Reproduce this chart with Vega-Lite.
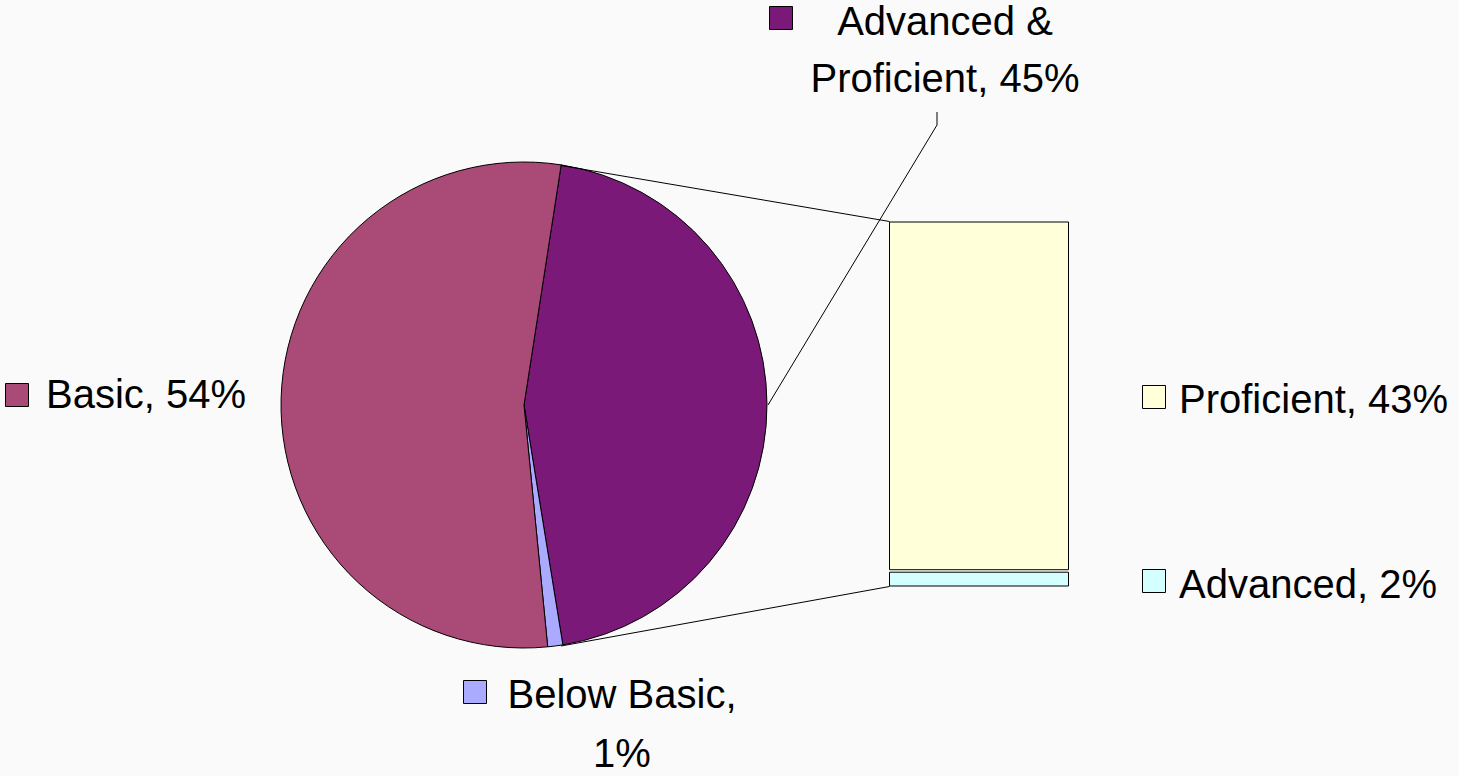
{
  "$schema": "https://vega.github.io/schema/vega-lite/v6.json",
  "width": 1459,
  "height": 776,
  "autosize": {"type": "fit", "contains": "padding"},
  "padding": 0,
  "background": "#fafafa",
  "config": {
    "view": {"stroke": null},
    "text": {"font": "Liberation Sans", "fontSize": 40, "fill": "#000000"}
  },
  "datasets": {
    "pie": [
      {"level": "Advanced & Proficient", "pct": 45, "rank": 1, "label": "Advanced &\nProficient, 45%"},
      {"level": "Below Basic", "pct": 1, "rank": 2, "label": "Below Basic,\n1%"},
      {"level": "Basic", "pct": 54, "rank": 3, "label": "Basic, 54%"}
    ],
    "bar": [
      {"level": "Advanced", "pct": 2, "rank": 1, "label": "Advanced, 2%"},
      {"level": "Proficient", "pct": 43, "rank": 2, "label": "Proficient, 43%"}
    ]
  },
  "resolve": {"scale": {"y": "independent"}},
  "layer": [
    {
      "data": {"name": "bar"},
      "transform": [{"stack": "pct", "groupby": [], "sort": [{"field": "rank", "order": "ascending"}], "as": ["y0", "y1"]}],
      "mark": {"type": "bar", "stroke": "#000000", "strokeWidth": 1, "y2Offset": 2.5},
      "encoding": {
        "x": {"datum": 889.5, "type": "quantitative", "scale": {"domain": [0, 1459], "nice": false, "zero": false}, "axis": null},
        "x2": {"datum": 1068.5},
        "y": {"field": "y0", "type": "quantitative", "scale": {"domain": [0, 45], "range": [586, 219.5], "nice": false, "zero": false}, "axis": null},
        "y2": {"field": "y1"},
        "color": {
          "field": "level", "type": "nominal", "legend": null,
          "scale": {
            "domain": ["Advanced & Proficient", "Below Basic", "Basic", "Proficient", "Advanced"],
            "range": ["#7b1979", "#aaaaff", "#aa4a76", "#ffffd9", "#d4ffff"]
          }
        }
      }
    },
    {
      "layer": [
        {
          "data": {"name": "pie"},
          "transform": [{"stack": "pct", "groupby": [], "sort": [{"field": "rank", "order": "ascending"}], "as": ["t0", "t1"]}],
          "mark": {"type": "arc", "outerRadius": 243, "stroke": "#000000", "strokeWidth": 1},
          "encoding": {
            "x": {"datum": 524, "type": "quantitative", "scale": {"domain": [0, 1459], "nice": false, "zero": false}, "axis": null},
            "y": {"datum": 405, "type": "quantitative", "scale": {"domain": [0, 776], "reverse": true, "nice": false, "zero": false}, "axis": null},
            "theta": {"field": "t0", "type": "quantitative", "scale": {"domain": [0, 100], "range": [0.1536, 6.4368]}},
            "theta2": {"field": "t1"},
            "color": {"field": "level", "type": "nominal", "legend": null}
          }
        },
        {
          "data": {"name": "pie"},
          "transform": [{"filter": "datum.rank === 1"}],
          "mark": {"type": "rule", "stroke": "#000000", "strokeWidth": 1},
          "encoding": {"x": {"datum": 561}, "y": {"datum": 165.5}, "x2": {"datum": 889.5}, "y2": {"datum": 221.5}}
        },
        {
          "data": {"name": "pie"},
          "transform": [{"filter": "datum.rank === 1"}],
          "mark": {"type": "rule", "stroke": "#000000", "strokeWidth": 1},
          "encoding": {"x": {"datum": 561}, "y": {"datum": 646}, "x2": {"datum": 889.5}, "y2": {"datum": 586.5}}
        },
        {
          "data": {"name": "pie"},
          "transform": [{"filter": "datum.rank === 1"}],
          "mark": {"type": "rule", "stroke": "#000000", "strokeWidth": 1},
          "encoding": {"x": {"datum": 937}, "y": {"datum": 112}, "x2": {"datum": 937}, "y2": {"datum": 125}}
        },
        {
          "data": {"name": "pie"},
          "transform": [{"filter": "datum.rank === 1"}],
          "mark": {"type": "rule", "stroke": "#000000", "strokeWidth": 1},
          "encoding": {"x": {"datum": 937}, "y": {"datum": 125}, "x2": {"datum": 768}, "y2": {"datum": 405}}
        },
        {
          "data": {"name": "pie"},
          "transform": [{"filter": "datum.level === 'Advanced & Proficient'"}],
          "mark": {"type": "point", "shape": "square", "filled": true, "size": 529, "opacity": 1, "stroke": "#000000", "strokeWidth": 1},
          "encoding": {"x": {"datum": 781}, "y": {"datum": 18}, "color": {"field": "level", "type": "nominal", "legend": null}}
        },
        {
          "data": {"name": "pie"},
          "transform": [{"filter": "datum.level === 'Advanced & Proficient'"}],
          "mark": {"type": "text", "align": "center", "baseline": "alphabetic", "lineBreak": "\n", "lineHeight": 57},
          "encoding": {"x": {"datum": 945}, "y": {"datum": 35}, "text": {"field": "label"}}
        },
        {
          "data": {"name": "pie"},
          "transform": [{"filter": "datum.level === 'Basic'"}],
          "mark": {"type": "point", "shape": "square", "filled": true, "size": 529, "opacity": 1, "stroke": "#000000", "strokeWidth": 1},
          "encoding": {"x": {"datum": 17}, "y": {"datum": 395}, "color": {"field": "level", "type": "nominal", "legend": null}}
        },
        {
          "data": {"name": "pie"},
          "transform": [{"filter": "datum.level === 'Basic'"}],
          "mark": {"type": "text", "align": "left", "baseline": "alphabetic"},
          "encoding": {"x": {"datum": 46}, "y": {"datum": 408}, "text": {"field": "label"}}
        },
        {
          "data": {"name": "pie"},
          "transform": [{"filter": "datum.level === 'Below Basic'"}],
          "mark": {"type": "point", "shape": "square", "filled": true, "size": 529, "opacity": 1, "stroke": "#000000", "strokeWidth": 1},
          "encoding": {"x": {"datum": 475}, "y": {"datum": 692}, "color": {"field": "level", "type": "nominal", "legend": null}}
        },
        {
          "data": {"name": "pie"},
          "transform": [{"filter": "datum.level === 'Below Basic'"}],
          "mark": {"type": "text", "align": "center", "baseline": "alphabetic", "lineBreak": "\n", "lineHeight": 59},
          "encoding": {"x": {"datum": 622}, "y": {"datum": 708}, "text": {"field": "label"}}
        },
        {
          "data": {"name": "bar"},
          "transform": [{"filter": "datum.level === 'Proficient'"}],
          "mark": {"type": "point", "shape": "square", "filled": true, "size": 529, "opacity": 1, "stroke": "#000000", "strokeWidth": 1},
          "encoding": {"x": {"datum": 1154}, "y": {"datum": 397}, "color": {"field": "level", "type": "nominal", "legend": null}}
        },
        {
          "data": {"name": "bar"},
          "transform": [{"filter": "datum.level === 'Proficient'"}],
          "mark": {"type": "text", "align": "left", "baseline": "alphabetic"},
          "encoding": {"x": {"datum": 1179}, "y": {"datum": 413}, "text": {"field": "label"}}
        },
        {
          "data": {"name": "bar"},
          "transform": [{"filter": "datum.level === 'Advanced'"}],
          "mark": {"type": "point", "shape": "square", "filled": true, "size": 529, "opacity": 1, "stroke": "#000000", "strokeWidth": 1},
          "encoding": {"x": {"datum": 1154}, "y": {"datum": 581}, "color": {"field": "level", "type": "nominal", "legend": null}}
        },
        {
          "data": {"name": "bar"},
          "transform": [{"filter": "datum.level === 'Advanced'"}],
          "mark": {"type": "text", "align": "left", "baseline": "alphabetic"},
          "encoding": {"x": {"datum": 1179}, "y": {"datum": 598}, "text": {"field": "label"}}
        }
      ]
    }
  ]
}
